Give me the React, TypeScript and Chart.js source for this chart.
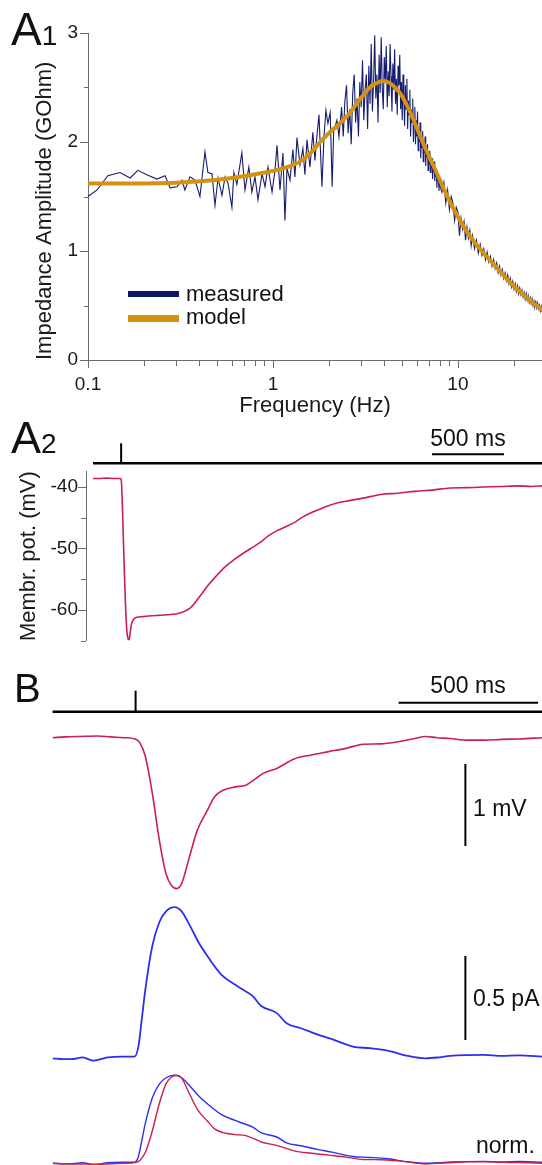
import React, { useEffect, useRef } from 'react';
import { Chart, registerables } from 'chart.js';

Chart.register(...registerables);

const FONT = '"Liberation Sans", Arial, Helvetica, sans-serif';
const AXIS = '#6b6b6b';
const TXT = '#1a1a1a';
const MEAS_COLOR = '#161c70';
const MODEL_COLOR = '#d4920f';
const RED = '#cc1f4e';
const BLUE = '#2e2ef2';

// ---------------- A1 : impedance amplitude ----------------
const freqTicks = [0.1, 0.2, 0.3, 0.4, 0.5, 0.6, 0.7, 0.8, 0.9, 1, 2, 3, 4, 5, 6, 7, 8, 9, 10, 20];
const freqMajor = [0.1, 1, 10];
const ampTicks = [0, 0.5, 1, 1.5, 2, 2.5, 3];
const ampMajor = [0, 1, 2, 3];

const measuredPoints: [number, number][] = [
  [0.100, 1.50], [0.112, 1.56], [0.128, 1.69], [0.149, 1.72], [0.169, 1.67], [0.186, 1.74], [0.208, 1.70],
  [0.236, 1.66], [0.261, 1.69], [0.278, 1.58], [0.303, 1.59], [0.322, 1.65], [0.334, 1.56], [0.356, 1.68],
  [0.379, 1.65], [0.403, 1.50], [0.429, 1.91], [0.445, 1.72], [0.468, 1.71], [0.486, 1.42], [0.505, 1.67],
  [0.530, 1.51], [0.551, 1.68], [0.572, 1.62], [0.600, 1.40], [0.615, 1.72], [0.638, 1.61], [0.679, 1.90],
  [0.706, 1.56], [0.741, 1.77], [0.769, 1.54], [0.800, 1.68], [0.830, 1.47], [0.873, 1.71], [0.906, 1.59],
  [0.940, 1.77], [0.989, 1.54], [1.026, 1.74], [1.052, 1.97], [1.092, 1.56], [1.133, 1.90], [1.161, 1.28],
  [1.191, 1.76], [1.236, 1.65], [1.282, 1.93], [1.315, 1.68], [1.349, 2.04], [1.400, 1.79], [1.452, 1.94],
  [1.489, 1.70], [1.528, 2.02], [1.585, 1.77], [1.644, 2.09], [1.687, 1.83], [1.730, 2.06], [1.774, 2.25],
  [1.841, 1.59], [1.888, 2.05], [1.934, 2.29], [1.983, 2.17], [2.040, 2.27], [2.090, 1.59], [2.130, 2.10],
  [2.218, 2.20], [2.275, 2.05],
  [2.35, 2.32], [2.40, 2.05], [2.45, 2.38], [2.50, 2.52], [2.55, 2.08], [2.60, 2.30], [2.65, 1.98],
  [2.70, 2.45], [2.75, 2.62], [2.80, 2.18], [2.85, 2.40], [2.90, 2.05], [2.95, 2.55], [3.00, 2.32],
  [3.05, 2.75], [3.10, 2.20], [3.15, 2.48], [3.20, 2.62], [3.25, 2.12], [3.30, 2.70], [3.35, 2.35],
  [3.40, 2.90], [3.45, 2.28], [3.50, 2.55], [3.55, 2.98], [3.60, 2.40], [3.65, 2.62], [3.70, 2.18],
  [3.75, 2.80], [3.80, 2.45], [3.85, 2.96], [3.90, 2.50], [3.95, 2.30], [4.00, 2.78], [4.05, 2.55],
  [4.10, 2.88], [4.15, 2.32], [4.20, 2.65], [4.25, 2.42], [4.30, 2.90], [4.35, 2.60], [4.40, 2.28],
  [4.45, 2.72], [4.50, 2.48], [4.55, 2.85], [4.60, 2.35], [4.65, 2.58], [4.70, 2.25], [4.75, 2.70],
  [4.80, 2.52], [4.85, 2.80], [4.90, 2.30], [4.95, 2.55], [5.00, 2.20], [5.05, 2.62], [5.10, 2.40],
  [5.15, 2.15], [5.20, 2.52], [5.25, 2.30], [5.30, 2.58], [5.35, 2.12], [5.40, 2.38], [5.45, 2.25],
  [5.50, 2.48], [5.55, 2.05], [5.60, 2.30], [5.65, 2.18], [5.70, 2.40], [5.75, 2.00], [5.80, 2.22],
  [5.85, 2.32], [5.90, 1.98], [5.95, 2.20], [6.00, 2.05], [6.05, 2.28], [6.10, 1.92], [6.15, 2.12],
  [6.20, 2.00], [6.25, 2.18], [6.30, 1.85], [6.35, 2.05], [6.40, 1.95], [6.45, 2.10], [6.50, 1.82],
  [6.55, 2.00], [6.60, 1.90], [6.65, 2.05], [6.70, 1.78], [6.75, 1.96], [6.80, 1.86], [6.85, 1.98],
  [6.90, 1.74], [6.95, 1.90], [7.00, 1.80], [7.05, 1.92], [7.10, 1.72], [7.15, 1.86], [7.20, 1.76],
  [7.25, 1.85], [7.30, 1.66], [7.35, 1.80], [7.40, 1.72], [7.45, 1.82], [7.50, 1.64], [7.55, 1.76],
  [7.60, 1.68], [7.65, 1.74], [7.70, 1.58], [7.75, 1.70], [7.80, 1.64], [7.85, 1.70], [7.90, 1.55],
  [7.95, 1.66], [8.00, 1.60],
  [8.2, 1.54], [8.4, 1.63], [8.6, 1.44], [8.8, 1.56], [9.0, 1.38], [9.2, 1.50], [9.4, 1.44], [9.6, 1.28],
  [9.8, 1.40], [10.0, 1.36], [10.2, 1.14], [10.4, 1.30], [10.6, 1.20], [10.8, 1.27], [11.0, 1.10],
  [11.2, 1.22], [11.4, 1.12], [11.6, 1.19], [11.8, 1.05], [12.0, 1.14], [12.3, 1.02], [12.6, 1.10],
  [12.9, 0.98], [13.2, 1.06], [13.5, 0.96], [13.8, 1.02], [14.1, 0.92], [14.4, 0.99], [14.7, 0.90],
  [15.0, 0.95], [15.3, 0.86], [15.6, 0.92], [15.9, 0.84], [16.2, 0.89], [16.5, 0.80], [16.8, 0.86],
  [17.1, 0.78], [17.4, 0.83], [17.7, 0.75], [18.0, 0.80], [18.3, 0.73], [18.6, 0.78], [18.9, 0.70],
  [19.2, 0.75], [19.5, 0.67], [19.8, 0.72], [20.1, 0.65], [20.4, 0.70], [20.7, 0.63], [21.0, 0.68],
  [21.3, 0.61], [21.6, 0.66], [21.9, 0.60], [22.2, 0.64], [22.5, 0.58], [22.8, 0.62], [23.1, 0.56],
  [23.4, 0.61], [23.7, 0.55], [24.0, 0.59], [24.3, 0.53], [24.6, 0.57], [24.9, 0.52], [25.2, 0.56],
  [25.5, 0.50], [25.8, 0.54], [26.1, 0.49], [26.4, 0.53], [26.7, 0.48], [27.0, 0.52], [27.3, 0.47],
  [27.6, 0.50], [27.9, 0.45], [28.2, 0.49], [28.5, 0.44], [28.8, 0.47],
];

const modelPoints: [number, number][] = [
  [0.1, 1.62], [0.2, 1.62], [0.403, 1.64], [0.6, 1.67], [0.905, 1.72], [1.15, 1.76], [1.40, 1.82],
  [1.60, 1.90], [1.80, 2.00], [2.03, 2.09], [2.30, 2.17], [2.61, 2.27], [2.95, 2.39], [3.34, 2.50],
  [3.63, 2.54], [3.93, 2.56], [4.29, 2.54], [4.57, 2.50], [4.86, 2.45], [5.18, 2.37], [5.50, 2.28],
  [5.86, 2.17], [6.23, 2.06], [6.64, 1.95], [7.06, 1.85], [7.52, 1.75], [8.0, 1.65], [9.06, 1.45],
  [10.6, 1.24], [12.3, 1.08], [14.3, 0.95], [16.8, 0.82], [19.7, 0.69], [23.5, 0.575], [27.8, 0.475],
  [29.0, 0.455],
];

// ---------------- A2 : membrane potential ----------------
const a2Time = [-195, -150, -100, -50, -10, 0, 5, 10, 20, 30, 40, 50, 55, 62, 72, 85, 108, 150, 192, 250, 320, 409,
  479, 540, 604, 660, 722, 780, 840, 900, 961, 1020, 1083, 1140, 1201, 1260, 1319, 1380, 1444, 1500, 1562, 1680,
  1805, 1920, 2041, 2160, 2284, 2400, 2520, 2640, 2763, 2850, 2926];
const a2Vm = [-38.6, -38.6, -38.55, -38.6, -38.6, -38.7, -40.5, -44, -52, -59, -63.5, -64.8, -64.9, -63.8, -62.3,
  -61.6, -61.2, -61.1, -61.0, -60.9, -60.8, -60.5, -59.7, -58.0, -56.0, -54.5, -53.0, -51.9, -50.9, -50.0, -49.1,
  -48.0, -47.1, -46.5, -45.8, -44.9, -44.2, -43.6, -43.0, -42.6, -42.3, -41.8, -41.2, -41.0, -40.7, -40.5, -40.15,
  -40.1, -40.0, -39.9, -39.8, -39.9, -39.8];
const a2Ticks = [-65, -60, -55, -50, -45, -40];
const a2Major = [-60, -50, -40];

// ---------------- B : voltage, current, normalised ----------------
const bRedTime = [-297, -250, -200, -138, -90, -40, -2, 15, 35, 60, 85, 109, 128, 147, 165, 190, 221, 258, 283, 314,
  357, 395, 430, 457, 506, 568, 630, 692, 754, 815, 878, 940, 1000, 1039, 1080, 1127, 1188, 1250, 1312, 1374, 1459];
const bRedMv = [0.0, 0.01, 0.015, 0.02, 0.01, 0.0, -0.015, -0.06, -0.23, -0.68, -1.25, -1.66, -1.80, -1.84, -1.78,
  -1.49, -1.13, -0.88, -0.72, -0.64, -0.60, -0.58, -0.50, -0.435, -0.375, -0.26, -0.21, -0.17, -0.13, -0.08, -0.075,
  -0.05, -0.01, 0.015, 0.0, -0.01, -0.03, -0.03, -0.02, -0.015, 0.0];
const bBlueTime = [-297, -260, -230, -190, -150, -100, -50, -5, 10, 22, 35, 60, 85, 109, 140, 165, 196, 227, 258, 308,
  357, 381, 420, 449, 506, 541, 593, 655, 704, 779, 840, 903, 977, 1039, 1089, 1127, 1250, 1312, 1374, 1459];
const bBluePa = [0.0, -0.005, -0.005, 0.005, -0.014, 0.005, 0.01, 0.01, 0.07, 0.23, 0.41, 0.67, 0.81, 0.875, 0.90,
  0.875, 0.785, 0.686, 0.607, 0.497, 0.438, 0.412, 0.37, 0.313, 0.269, 0.209, 0.179, 0.14, 0.114, 0.07, 0.06, 0.046,
  0.014, 0.0, 0.006, 0.014, 0.02, 0.014, 0.018, 0.01];

// scale bars (data units)
const a2TimeBar = [2159, 2659];
const bTimeBar = [942.6, 1442.6];
const bBarTime = 1182;
const bMvBar = [-0.321, -1.321];
const bPaBar = [0.109, 0.609];

type Seg = { x1: number | 'end'; x2: number | 'end'; y1: number; y2: number; yAxis?: string; width: number };
type TickSet = { axis: string; values: number[]; major: number[]; majorLen: number; minorLen: number };

function overlay(segs: Seg[], ticks: TickSet[]) {
  return {
    id: 'overlay',
    afterDraw(chart: any) {
      const ctx = chart.ctx;
      const area = chart.chartArea;
      const xs = chart.scales.x;
      ctx.save();
      ctx.lineCap = 'butt';
      for (const s of segs) {
        const px = (v: number | 'end') => (v === 'end' ? area.right + 5 : xs.getPixelForValue(v));
        const py = (v: number) => (s.yAxis ? chart.scales[s.yAxis].getPixelForValue(v) : area.top + v);
        ctx.strokeStyle = '#000';
        ctx.lineWidth = s.width;
        ctx.beginPath();
        ctx.moveTo(px(s.x1), py(s.y1));
        ctx.lineTo(px(s.x2), py(s.y2));
        ctx.stroke();
      }
      for (const t of ticks) {
        const sc = chart.scales[t.axis];
        ctx.strokeStyle = AXIS;
        ctx.lineWidth = 1;
        for (const v of t.values) {
          const len = t.major.includes(v) ? t.majorLen : t.minorLen;
          const p = Math.round(sc.getPixelForValue(v)) + 0.5;
          ctx.beginPath();
          if (sc.isHorizontal()) {
            ctx.moveTo(p, sc.top);
            ctx.lineTo(p, sc.top + len);
          } else {
            ctx.moveTo(sc.right, p);
            ctx.lineTo(sc.right - len, p);
          }
          ctx.stroke();
        }
      }
      ctx.restore();
    },
  };
}

const baseOpts = {
  animation: false,
  responsive: false,
  events: [],
  plugins: { legend: { display: false }, tooltip: { enabled: false }, title: { display: false } },
};

function a1Config(): any {
  return {
    type: 'line',
    data: {
      datasets: [
        { label: 'model', data: modelPoints.map(([x, y]) => ({ x, y })), borderColor: MODEL_COLOR, borderWidth: 4,
          pointRadius: 0, cubicInterpolationMode: 'monotone', order: 0 },
        { label: 'measured', data: measuredPoints.map(([x, y]) => ({ x, y })), borderColor: MEAS_COLOR,
          borderWidth: 1.1, pointRadius: 0, tension: 0, order: 1 },
      ],
    },
    options: {
      ...baseOpts,
      layout: { padding: { top: 33, right: 0, bottom: 0, left: 0 } },
      scales: {
        x: {
          type: 'logarithmic', min: 0.1, max: 28.5,
          afterBuildTicks: (s: any) => { s.ticks = freqTicks.map((v) => ({ value: v })); },
          afterFit: (s: any) => { s.height = 60; },
          grid: { display: false, drawTicks: false },
          border: { display: true, color: AXIS, width: 1 },
          ticks: { autoSkip: false, maxRotation: 0, minRotation: 0, padding: 13, color: TXT,
            font: { size: 19, family: FONT },
            callback: (v: number) => (freqMajor.includes(v) ? String(v) : '') },
          title: { display: true, text: 'Frequency (Hz)', color: TXT, font: { size: 22, family: FONT },
            padding: { top: 0, bottom: 0.8 } },
        },
        y: {
          type: 'linear', min: 0, max: 3,
          afterBuildTicks: (s: any) => { s.ticks = ampTicks.map((v) => ({ value: v })); },
          afterFit: (s: any) => { s.width = 88; },
          grid: { display: false, drawTicks: false },
          border: { display: true, color: AXIS, width: 1 },
          ticks: { autoSkip: false, padding: 10, color: TXT, font: { size: 19, family: FONT },
            callback: (v: number) => (ampMajor.includes(v) ? String(v) : '') },
          title: { display: true, text: 'Impedance Amplitude (GOhm)', color: TXT, align: 'start',
            font: { size: 22, family: FONT }, padding: { top: 31.3, bottom: 0 } },
        },
      },
    },
    plugins: [overlay([], [
      { axis: 'x', values: freqTicks, major: freqMajor, majorLen: 8, minorLen: 6 },
      { axis: 'y', values: ampTicks, major: ampMajor, majorLen: 8, minorLen: 4 },
    ])],
  };
}

function a2Config(): any {
  return {
    type: 'line',
    data: {
      datasets: [
        { data: a2Time.map((t, i) => ({ x: t, y: a2Vm[i] })), borderColor: RED, borderWidth: 1.6, pointRadius: 0,
          cubicInterpolationMode: 'monotone' },
      ],
    },
    options: {
      ...baseOpts,
      layout: { padding: { top: 51.7, right: 0, bottom: 17.3, left: 0 } },
      scales: {
        x: { type: 'linear', display: false, min: -244, max: 2923 },
        y: {
          type: 'linear', min: -65, max: -37.5,
          afterBuildTicks: (s: any) => { s.ticks = a2Ticks.map((v) => ({ value: v })); },
          afterFit: (s: any) => { s.width = 86; },
          grid: { display: false, drawTicks: false },
          border: { display: true, color: AXIS, width: 1 },
          ticks: { autoSkip: false, padding: 8, color: TXT, font: { size: 19, family: FONT },
            callback: (v: number) => (a2Major.includes(v) ? String(v) : '') },
          title: { display: true, text: 'Membr. pot. (mV)', color: TXT, font: { size: 22, family: FONT },
            padding: { top: 16.2, bottom: 0 } },
        },
      },
    },
    plugins: [overlay([
      { x1: a2Time[0], x2: 'end', y1: -8.4, y2: -8.4, width: 2.5 },
      { x1: 0, x2: 0, y1: -28.4, y2: -8.4, width: 2 },
      { x1: a2TimeBar[0], x2: a2TimeBar[1], y1: -17.4, y2: -17.4, width: 2 },
    ], [
      { axis: 'y', values: a2Ticks, major: a2Major, majorLen: 8, minorLen: 5 },
    ])],
  };
}

function bConfig(): any {
  const redPeak = Math.min(...bRedMv);
  const bluePeak = Math.max(...bBluePa);
  return {
    type: 'line',
    data: {
      datasets: [
        { data: bRedTime.map((t, i) => ({ x: t, y: bRedMv[i] })), yAxisID: 'yRed', borderColor: RED, borderWidth: 1.6,
          pointRadius: 0, cubicInterpolationMode: 'monotone' },
        { data: bBlueTime.map((t, i) => ({ x: t, y: bBluePa[i] })), yAxisID: 'yBlue', borderColor: BLUE,
          borderWidth: 1.8, pointRadius: 0, cubicInterpolationMode: 'monotone' },
        { data: bRedTime.map((t, i) => ({ x: t, y: bRedMv[i] / redPeak })), yAxisID: 'yNorm', borderColor: RED,
          borderWidth: 1.4, pointRadius: 0, cubicInterpolationMode: 'monotone' },
        { data: bBlueTime.map((t, i) => ({ x: t, y: bBluePa[i] / bluePeak })), yAxisID: 'yNorm', borderColor: BLUE,
          borderWidth: 1.4, pointRadius: 0, cubicInterpolationMode: 'monotone' },
      ],
    },
    options: {
      ...baseOpts,
      layout: { padding: { top: 55, right: 0, bottom: 0, left: 52.6 } },
      scales: {
        x: { type: 'linear', display: false, min: -297.5, max: 1456.6 },
        yRed: { axis: 'y', type: 'linear', display: false, min: -5.211, max: 0.2768 },
        yBlue: { axis: 'y', type: 'linear', display: false, min: -0.6351, max: 2.0435 },
        yNorm: { axis: 'y', type: 'linear', display: false, min: -0.0193, max: 5.0943 },
      },
    },
    plugins: [overlay([
      { x1: -297.5, x2: 'end', y1: -3.3, y2: -3.3, width: 2.5 },
      { x1: 0, x2: 0, y1: -24.3, y2: -3.3, width: 2 },
      { x1: bTimeBar[0], x2: bTimeBar[1], y1: -12.3, y2: -12.3, width: 2 },
      { x1: bBarTime, x2: bBarTime, y1: bMvBar[0], y2: bMvBar[1], yAxis: 'yRed', width: 2 },
      { x1: bBarTime, x2: bBarTime, y1: bPaBar[0], y2: bPaBar[1], yAxis: 'yBlue', width: 2 },
    ], [])],
  };
}

function ChartCanvas({ top, height, make }: { top: number; height: number; make: () => any }) {
  const ref = useRef<HTMLCanvasElement>(null);
  useEffect(() => {
    const chart = new Chart(ref.current as HTMLCanvasElement, make());
    return () => chart.destroy();
  }, []);
  return (
    <canvas ref={ref} width={542} height={height}
      style={{ position: 'absolute', left: 0, top, width: 542, height, display: 'block' }} />
  );
}

function Txt({ x, baseline, size, anchor = 'start', children }:
  { x: number; baseline: number; size: number; anchor?: string; children: React.ReactNode }) {
  return (
    <div style={{
      position: 'absolute', left: x, top: baseline - 0.8465 * size, fontSize: size, lineHeight: size + 'px',
      fontFamily: FONT, color: '#111', whiteSpace: 'nowrap',
      transform: anchor === 'middle' ? 'translateX(-50%)' : undefined,
    }}>{children}</div>
  );
}

function Swatch({ x, y, w, h, color }: { x: number; y: number; w: number; h: number; color: string }) {
  return <div style={{ position: 'absolute', left: x, top: y, width: w, height: h, background: color }} />;
}

export default function App() {
  return (
    <div style={{ position: 'absolute', left: 0, top: 0, width: 542, height: 1165, overflow: 'hidden', background: '#fff' }}>
      <ChartCanvas top={0} height={420} make={a1Config} />
      <ChartCanvas top={420} height={240} make={a2Config} />
      <ChartCanvas top={660} height={505} make={bConfig} />

      <Txt x={11} baseline={45} size={46}>A<span style={{ fontSize: 28, lineHeight: 1 }}>1</span></Txt>
      <Swatch x={128} y={291} w={51} h={6} color="#0c1566" />
      <Txt x={186} baseline={301.7} size={22}>measured</Txt>
      <Swatch x={128} y={315} w={51} h={6.5} color={MODEL_COLOR} />
      <Txt x={186} baseline={325} size={22}>model</Txt>

      <Txt x={11} baseline={453.3} size={45}>A<span style={{ fontSize: 28, lineHeight: 1 }}>2</span></Txt>
      <Txt x={468} baseline={446.7} size={23} anchor="middle">500 ms</Txt>

      <Txt x={14} baseline={701.7} size={40}>B</Txt>
      <Txt x={468} baseline={693.3} size={23} anchor="middle">500 ms</Txt>
      <Txt x={473} baseline={816.7} size={23}>1 mV</Txt>
      <Txt x={473} baseline={1006} size={23}>0.5 pA</Txt>
      <Txt x={476} baseline={1153.3} size={23}>norm.</Txt>
    </div>
  );
}
